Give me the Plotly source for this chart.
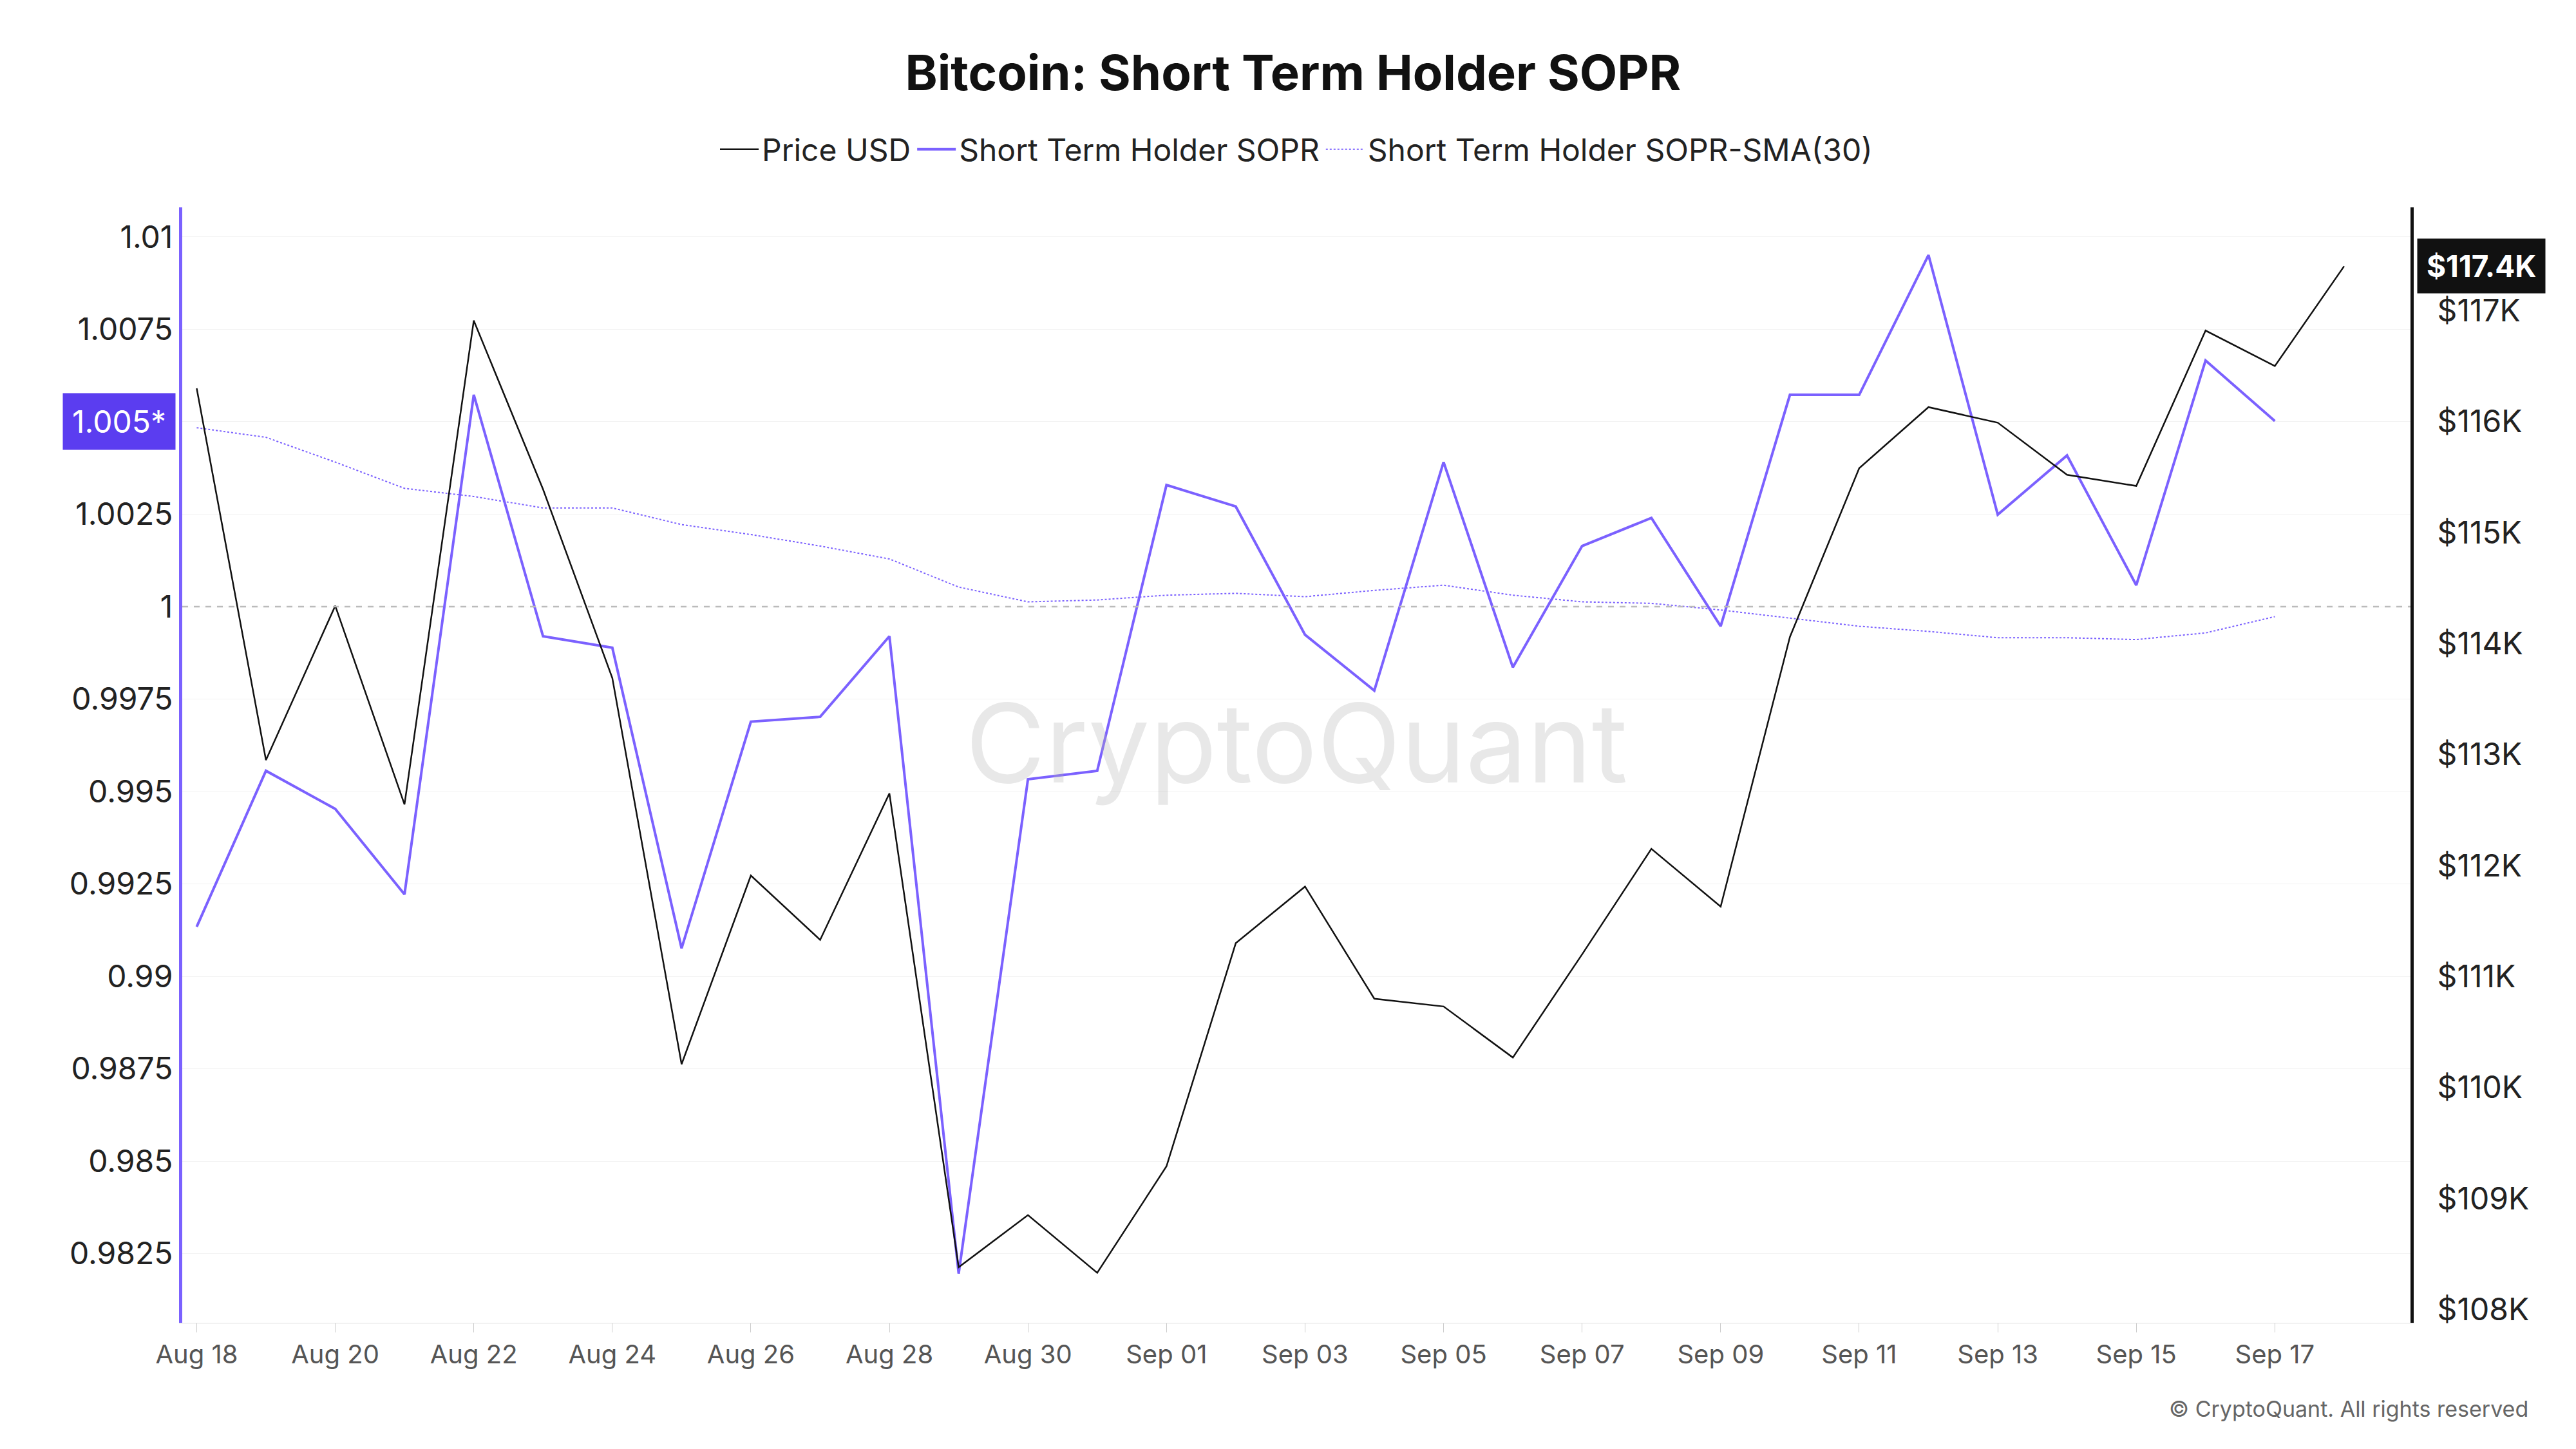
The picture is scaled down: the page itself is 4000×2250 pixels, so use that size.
import plotly.graph_objects as go
import pandas as pd

dates = pd.date_range("2025-08-18", "2025-09-18", freq="D")
price = [116.3,112.95,114.34,112.55,116.91,115.39,113.69,110.21,111.91,111.33,112.65,108.38,108.85,108.33,109.29,111.3,111.81,110.8,110.73,110.27,111.2,112.15,111.63,114.06,115.58,116.13,115.99,115.52,115.42,116.82,116.5,117.4]
sopr = [0.99134,0.99556,0.99453,0.99222,1.00573,0.9992,0.99889,0.99076,0.99689,0.99702,0.9992,0.98196,0.99533,0.99556,1.00329,1.00271,0.99924,0.99773,1.00391,0.99836,1.00164,1.0024,0.99947,1.00573,1.00573,1.00951,1.00249,1.00409,1.00058,1.00666,1.00502]
sma = [1.00484,1.00458,1.00391,1.0032,1.00298,1.00267,1.00267,1.00222,1.00195,1.00164,1.00129,1.00053,1.00013,1.00018,1.00031,1.00036,1.00027,1.00044,1.00058,1.00031,1.00013,1.00009,0.99991,0.99969,0.99947,0.99933,0.99916,0.99916,0.99911,0.99929,0.99973]
left_ticks = [0.9825,0.985,0.9875,0.99,0.9925,0.995,0.9975,1,1.0025,1.005,1.0075,1.01]
left_labels = ["0.9825","0.985","0.9875","0.99","0.9925","0.995","0.9975","1","1.0025","","1.0075","1.01"]
right_ticks = [108,109,110,111,112,113,114,115,116,117]

purple = "#7B61FF"
F = "Inter"
fig = go.Figure()
fig.add_trace(go.Scatter(x=dates, y=[p*1000 for p in price], name="Price USD", yaxis="y2",
                         mode="lines", line=dict(color="#111111", width=2.5)))
fig.add_trace(go.Scatter(x=dates[:len(sopr)], y=sopr, name="Short Term Holder SOPR",
                         mode="lines", line=dict(color=purple, width=4)))
fig.add_trace(go.Scatter(x=dates[:len(sma)], y=sma, name="Short Term Holder SOPR-SMA(30)",
                         mode="lines", line=dict(color=purple, width=2, dash="dot")))

fig.update_layout(
    width=4000, height=2250, paper_bgcolor="white", plot_bgcolor="white",
    font=dict(family=F, size=44, color="#222"),
    title=dict(text="<b>Bitcoin: Short Term Holder SOPR</b>", x=0.5, y=0.965, xanchor="center",
               font=dict(size=76, color="#111")),
    legend=dict(orientation="h", x=0.5, y=1.052, xanchor="center", yanchor="middle",
                font=dict(size=48, color="#222"), itemwidth=60, tracegroupgap=40),
    margin=dict(l=275, r=265, t=314, b=204),
    xaxis=dict(range=["2025-08-17 19:00", "2025-09-18 23:00"], tickformat="%b %d", dtick=2*86400000,
               tick0="2025-08-18", showgrid=False, showline=True, linecolor="#ddd",
               ticks="outside", ticklen=14, tickcolor="#ccc", tickfont=dict(size=40, color="#555")),
    yaxis=dict(range=[0.98063, 1.0108], tickvals=left_ticks, ticktext=left_labels,
               showgrid=True, gridcolor="#f3f3f3", showline=True, linecolor=purple, linewidth=5,
               zeroline=False, tickfont=dict(size=48, color="#222"), ticks=""),
    yaxis2=dict(range=[107880, 117930], overlaying="y", side="right", tickvals=[t*1000 for t in right_ticks],
                ticktext=[f"  ${t}K" for t in right_ticks], showgrid=False, showline=True,
                linecolor="#111", linewidth=5, tickfont=dict(size=48, color="#222"), ticks=""),
)
fig.add_hline(y=1, line=dict(color="#bbb", width=2.5, dash="dash"))
fig.add_annotation(x=0, xref="paper", y=1.005, yref="y", text="1.005*", showarrow=False,
                   xanchor="right", bgcolor="#5B3DF0", font=dict(color="white", size=48),
                   borderpad=14, xshift=-10)
fig.add_annotation(x=1, xref="paper", y=117400, yref="y2", text="<b>$117.4K</b>", showarrow=False,
                   xanchor="left", bgcolor="#111", font=dict(color="white", size=46),
                   borderpad=14, xshift=10)
fig.add_annotation(x=0.5, xref="paper", y=0.52, yref="paper", text="CryptoQuant", showarrow=False,
                   font=dict(size=170, color="rgba(180,180,180,0.3)"))
fig.add_annotation(x=1.0, xref="paper", y=-0.09, yref="paper", text="© CryptoQuant. All rights reserved",
                   showarrow=False, xanchor="right", xshift=185, font=dict(size=34, color="#666"))
fig.write_html("out.html")
